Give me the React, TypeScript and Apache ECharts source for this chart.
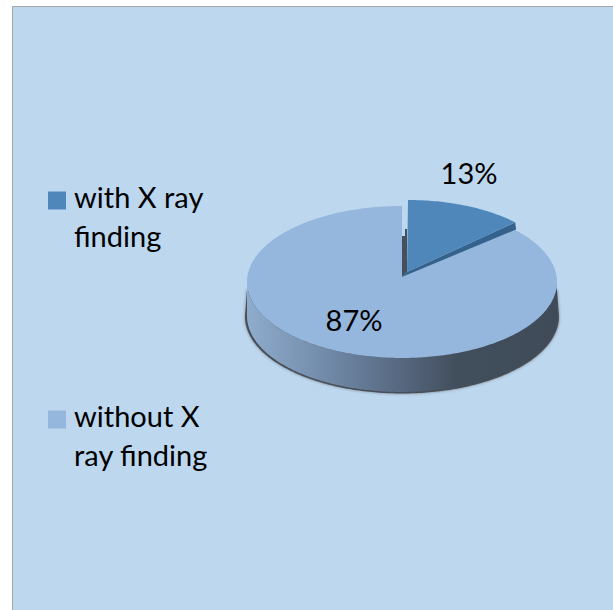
import React, { useEffect, useRef } from "react";
import * as echarts from "echarts";

const categories = ["with X ray finding", "without X ray finding"];
// The short blank first row keeps the next row level with the legend square.
const legendLines = ["{gap| }\n{line|with X ray}\n{line|finding}", "{gap| }\n{line|without X}\n{line|ray finding}"];
const sliceValues = [13, 87];
const sliceColors = ["#4F87BA", "#95B6DD"];

const FONT = "Lato";
const FONT_SIZE = 29;

const total = sliceValues[0] + sliceValues[1];
const wedgeSweep = (sliceValues[0] / total) * Math.PI * 2;

type Ellipse = { cx: number; cy: number; rx: number; ry: number };
const mainDisc: Ellipse = { cx: 402, cy: 282, rx: 155, ry: 76 };
const wedgeDisc: Ellipse = { cx: 408, cy: 271, rx: 147, ry: 71 };
const DEPTH = 34;

// Angle runs clockwise from twelve o'clock, on a squashed disc.
const onDisc = (e: Ellipse, a: number): number[] => [
  e.cx + e.rx * Math.sin(a),
  e.cy - e.ry * Math.cos(a),
];

const arc = (e: Ellipse, from: number, to: number): number[][] => {
  const pts: number[][] = [];
  const steps = Math.max(8, Math.ceil(Math.abs(to - from) * 60));
  for (let i = 0; i <= steps; i++) pts.push(onDisc(e, from + ((to - from) * i) / steps));
  return pts;
};

const poly = (points: number[][], fill: any, extra: any = {}) => ({
  type: "polygon",
  shape: { points },
  style: { fill, ...extra },
  silent: true,
});

const percentLabel = (value: number, x: number, y: number) => ({
  type: "text",
  x,
  y,
  style: {
    text: `${value}%`,
    font: `${FONT_SIZE}px ${FONT}`,
    fill: "#000000",
    align: "center",
    verticalAlign: "middle",
  },
  silent: true,
});

// The large slice: soft ground shadow, rim, top face and its value.
const renderMainSlice = (_: any, api: any) => {
  const value = api.value(0);
  const lower = { ...mainDisc, cy: mainDisc.cy + DEPTH };
  const halo = { ...mainDisc, cy: mainDisc.cy + DEPTH + 0.5, rx: mainDisc.rx + 2, ry: mainDisc.ry + 1 };
  const haloOutline = [
    ...arc(halo, Math.PI / 2, (Math.PI * 3) / 2),
    [mainDisc.cx - mainDisc.rx, mainDisc.cy + 8],
    [mainDisc.cx + mainDisc.rx, mainDisc.cy + 8],
  ];
  const rim = [
    ...arc(mainDisc, Math.PI / 2, (Math.PI * 3) / 2),
    ...arc(lower, (Math.PI * 3) / 2, Math.PI / 2),
  ];
  const rimFill = new echarts.graphic.LinearGradient(0, 0, 1, 0, [
    { offset: 0, color: "#8FACCC" },
    { offset: 0.25, color: "#728BAA" },
    { offset: 0.5, color: "#56677F" },
    { offset: 0.68, color: "#414E5C" },
    { offset: 1, color: "#3F4B58" },
  ]);
  const notchApex = [mainDisc.cx, mainDisc.cy - 5];
  const top = [notchApex, ...arc(mainDisc, wedgeSweep, Math.PI * 2)];
  return {
    type: "group",
    children: [
      poly(haloOutline, "rgba(55,60,65,0.8)", {
        shadowBlur: 3,
        shadowColor: "rgba(55,60,65,0.7)",
      }),
      poly(rim, rimFill),
      poly(top, sliceColors[1]),
      percentLabel(value, 354, 319),
    ],
  };
};

// The pulled-out wedge with its two visible side walls.
const renderWedge = (_: any, api: any) => {
  const value = api.value(0);
  const apex = [wedgeDisc.cx - 1, wedgeDisc.cy + 1];
  const tip = onDisc(wedgeDisc, wedgeSweep);
  const notchApex = [mainDisc.cx, mainDisc.cy - 5];
  const notchTip = onDisc(mainDisc, wedgeSweep);
  const leftWall = [
    [mainDisc.cx, mainDisc.cy - 46],
    [mainDisc.cx + 3, mainDisc.cy - 46],
    [mainDisc.cx + 3, mainDisc.cy - 53],
    [apex[0], mainDisc.cy - 53],
    apex,
    notchApex,
  ];
  const sideWall = [apex, tip, [tip[0] + 1, tip[1] + 7], notchTip, notchApex];
  return {
    type: "group",
    children: [
      poly(leftWall, "#44505C"),
      poly(sideWall, "#35628C"),
      poly([apex, ...arc(wedgeDisc, 0, wedgeSweep)], sliceColors[0]),
      percentLabel(value, 469, 172),
    ],
  };
};

const legendFor = (index: number, top: number) => ({
  show: true,
  orient: "vertical",
  data: [categories[index]],
  left: 48,
  top,
  padding: 0,
  itemWidth: 18,
  itemHeight: 18,
  itemGap: 0,
  icon: "rect",
  selectedMode: false,
  formatter: () => legendLines[index],
  textStyle: {
    padding: [0, 0, 0, 3],
    rich: {
      gap: { fontSize: 10, lineHeight: 31, fontFamily: FONT },
      line: { fontFamily: FONT, fontSize: FONT_SIZE, lineHeight: 39, color: "#000000" },
    },
  },
});

export default function App() {
  const ref = useRef<HTMLDivElement>(null);

  useEffect(() => {
    if (!ref.current) return;
    const chart = echarts.init(ref.current, undefined, { renderer: "svg" });
    chart.setOption({
      animation: false,
      backgroundColor: "#FFFFFF",
      graphic: [
        {
          type: "rect",
          z: -1,
          silent: true,
          shape: { x: 12.5, y: 6.5, width: 620, height: 620 },
          style: { fill: "#BDD7EE", stroke: "#A6A6A6", lineWidth: 1 },
        },
      ],
      legend: [legendFor(0, 156.5), legendFor(1, 375.5)],
      series: [
        {
          type: "custom",
          name: categories[1],
          coordinateSystem: "none",
          itemStyle: { color: sliceColors[1] },
          data: [sliceValues[1]],
          renderItem: renderMainSlice,
        },
        {
          type: "custom",
          name: categories[0],
          coordinateSystem: "none",
          itemStyle: { color: sliceColors[0] },
          data: [sliceValues[0]],
          renderItem: renderWedge,
        },
      ],
    });
    return () => chart.dispose();
  }, []);

  return (
    <div
      ref={ref}
      style={{ position: "fixed", left: 0, top: 0, width: 613, height: 610 }}
    />
  );
}
